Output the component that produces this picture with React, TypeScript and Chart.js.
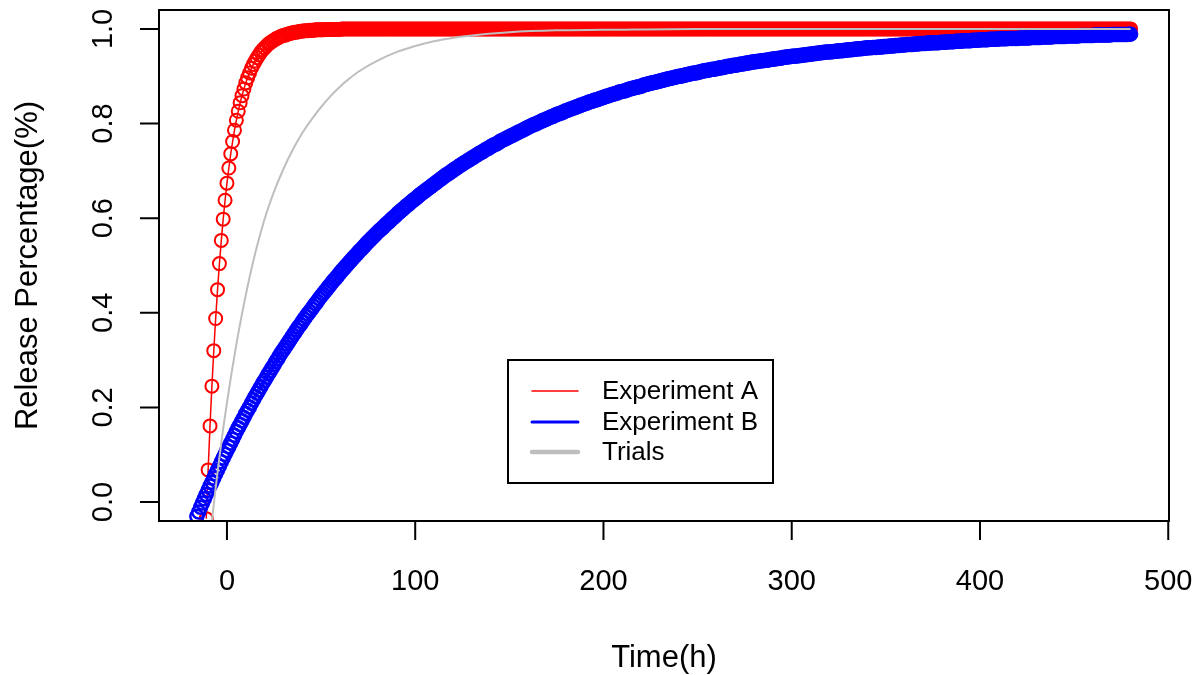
import React, { useEffect, useRef } from "react";
import { Chart, registerables } from "chart.js";

Chart.register(...registerables);

// ---------------- data ----------------
// sampling hours shared by both experiments (-16 h .. 480 h, 1 h apart)
const hours = [
  -16, -15, -14, -13, -12, -11, -10, -9, -8, -7,
  -6, -5, -4, -3, -2, -1, 0, 1, 2, 3,
  4, 5, 6, 7, 8, 9, 10, 11, 12, 13,
  14, 15, 16, 17, 18, 19, 20, 21, 22, 23,
  24, 25, 26, 27, 28, 29, 30, 31, 32, 33,
  34, 35, 36, 37, 38, 39, 40, 41, 42, 43,
  44, 45, 46, 47, 48, 49, 50, 51, 52, 53,
  54, 55, 56, 57, 58, 59, 60, 61, 62, 63,
  64, 65, 66, 67, 68, 69, 70, 71, 72, 73,
  74, 75, 76, 77, 78, 79, 80, 81, 82, 83,
  84, 85, 86, 87, 88, 89, 90, 91, 92, 93,
  94, 95, 96, 97, 98, 99, 100, 101, 102, 103,
  104, 105, 106, 107, 108, 109, 110, 111, 112, 113,
  114, 115, 116, 117, 118, 119, 120, 121, 122, 123,
  124, 125, 126, 127, 128, 129, 130, 131, 132, 133,
  134, 135, 136, 137, 138, 139, 140, 141, 142, 143,
  144, 145, 146, 147, 148, 149, 150, 151, 152, 153,
  154, 155, 156, 157, 158, 159, 160, 161, 162, 163,
  164, 165, 166, 167, 168, 169, 170, 171, 172, 173,
  174, 175, 176, 177, 178, 179, 180, 181, 182, 183,
  184, 185, 186, 187, 188, 189, 190, 191, 192, 193,
  194, 195, 196, 197, 198, 199, 200, 201, 202, 203,
  204, 205, 206, 207, 208, 209, 210, 211, 212, 213,
  214, 215, 216, 217, 218, 219, 220, 221, 222, 223,
  224, 225, 226, 227, 228, 229, 230, 231, 232, 233,
  234, 235, 236, 237, 238, 239, 240, 241, 242, 243,
  244, 245, 246, 247, 248, 249, 250, 251, 252, 253,
  254, 255, 256, 257, 258, 259, 260, 261, 262, 263,
  264, 265, 266, 267, 268, 269, 270, 271, 272, 273,
  274, 275, 276, 277, 278, 279, 280, 281, 282, 283,
  284, 285, 286, 287, 288, 289, 290, 291, 292, 293,
  294, 295, 296, 297, 298, 299, 300, 301, 302, 303,
  304, 305, 306, 307, 308, 309, 310, 311, 312, 313,
  314, 315, 316, 317, 318, 319, 320, 321, 322, 323,
  324, 325, 326, 327, 328, 329, 330, 331, 332, 333,
  334, 335, 336, 337, 338, 339, 340, 341, 342, 343,
  344, 345, 346, 347, 348, 349, 350, 351, 352, 353,
  354, 355, 356, 357, 358, 359, 360, 361, 362, 363,
  364, 365, 366, 367, 368, 369, 370, 371, 372, 373,
  374, 375, 376, 377, 378, 379, 380, 381, 382, 383,
  384, 385, 386, 387, 388, 389, 390, 391, 392, 393,
  394, 395, 396, 397, 398, 399, 400, 401, 402, 403,
  404, 405, 406, 407, 408, 409, 410, 411, 412, 413,
  414, 415, 416, 417, 418, 419, 420, 421, 422, 423,
  424, 425, 426, 427, 428, 429, 430, 431, 432, 433,
  434, 435, 436, 437, 438, 439, 440, 441, 442, 443,
  444, 445, 446, 447, 448, 449, 450, 451, 452, 453,
  454, 455, 456, 457, 458, 459, 460, 461, 462, 463,
  464, 465, 466, 467, 468, 469, 470, 471, 472, 473,
  474, 475, 476, 477, 478, 479, 480,
];

// Experiment A (starts at -11 h)
const releaseA = [
  null, null, null, null, null, -0.035, 0.068, 0.161, 0.245, 0.32,
  0.388, 0.449, 0.504, 0.553, 0.598, 0.638, 0.674, 0.706, 0.736, 0.762,
  0.786, 0.807, 0.826, 0.844, 0.859, 0.873, 0.886, 0.897, 0.907, 0.917,
  0.925, 0.932, 0.939, 0.945, 0.951, 0.956, 0.96, 0.964, 0.968, 0.971,
  0.974, 0.976, 0.979, 0.981, 0.983, 0.985, 0.986, 0.987, 0.989, 0.99,
  0.991, 0.992, 0.993, 0.993, 0.994, 0.995, 0.995, 0.996, 0.996, 0.996,
  0.997, 0.997, 0.997, 0.998, 0.998, 0.998, 0.998, 0.998, 0.999, 0.999,
  0.999, 0.999, 0.999, 0.999, 0.999, 0.999, 0.999, 1, 1, 1,
  1, 1, 1, 1, 1, 1, 1, 1, 1, 1,
  1, 1, 1, 1, 1, 1, 1, 1, 1, 1,
  1, 1, 1, 1, 1, 1, 1, 1, 1, 1,
  1, 1, 1, 1, 1, 1, 1, 1, 1, 1,
  1, 1, 1, 1, 1, 1, 1, 1, 1, 1,
  1, 1, 1, 1, 1, 1, 1, 1, 1, 1,
  1, 1, 1, 1, 1, 1, 1, 1, 1, 1,
  1, 1, 1, 1, 1, 1, 1, 1, 1, 1,
  1, 1, 1, 1, 1, 1, 1, 1, 1, 1,
  1, 1, 1, 1, 1, 1, 1, 1, 1, 1,
  1, 1, 1, 1, 1, 1, 1, 1, 1, 1,
  1, 1, 1, 1, 1, 1, 1, 1, 1, 1,
  1, 1, 1, 1, 1, 1, 1, 1, 1, 1,
  1, 1, 1, 1, 1, 1, 1, 1, 1, 1,
  1, 1, 1, 1, 1, 1, 1, 1, 1, 1,
  1, 1, 1, 1, 1, 1, 1, 1, 1, 1,
  1, 1, 1, 1, 1, 1, 1, 1, 1, 1,
  1, 1, 1, 1, 1, 1, 1, 1, 1, 1,
  1, 1, 1, 1, 1, 1, 1, 1, 1, 1,
  1, 1, 1, 1, 1, 1, 1, 1, 1, 1,
  1, 1, 1, 1, 1, 1, 1, 1, 1, 1,
  1, 1, 1, 1, 1, 1, 1, 1, 1, 1,
  1, 1, 1, 1, 1, 1, 1, 1, 1, 1,
  1, 1, 1, 1, 1, 1, 1, 1, 1, 1,
  1, 1, 1, 1, 1, 1, 1, 1, 1, 1,
  1, 1, 1, 1, 1, 1, 1, 1, 1, 1,
  1, 1, 1, 1, 1, 1, 1, 1, 1, 1,
  1, 1, 1, 1, 1, 1, 1, 1, 1, 1,
  1, 1, 1, 1, 1, 1, 1, 1, 1, 1,
  1, 1, 1, 1, 1, 1, 1, 1, 1, 1,
  1, 1, 1, 1, 1, 1, 1, 1, 1, 1,
  1, 1, 1, 1, 1, 1, 1, 1, 1, 1,
  1, 1, 1, 1, 1, 1, 1, 1, 1, 1,
  1, 1, 1, 1, 1, 1, 1, 1, 1, 1,
  1, 1, 1, 1, 1, 1, 1, 1, 1, 1,
  1, 1, 1, 1, 1, 1, 1, 1, 1, 1,
  1, 1, 1, 1, 1, 1, 1, 1, 1, 1,
  1, 1, 1, 1, 1, 1, 1, 1, 1, 1,
  1, 1, 1, 1, 1, 1, 1, 1, 1, 1,
  1, 1, 1, 1, 1, 1, 1, 1, 1, 1,
  1, 1, 1, 1, 1, 1, 1, 1, 1, 1,
  1, 1, 1, 1, 1, 1, 1,
];

// Experiment B (starts at -16 h)
const releaseB = [
  -0.03, -0.021, -0.011, -0.002, 0.007, 0.016, 0.025, 0.034, 0.042, 0.051,
  0.06, 0.068, 0.076, 0.085, 0.093, 0.101, 0.109, 0.117, 0.125, 0.133,
  0.141, 0.149, 0.157, 0.164, 0.172, 0.179, 0.187, 0.194, 0.201, 0.209,
  0.216, 0.223, 0.23, 0.237, 0.244, 0.251, 0.257, 0.264, 0.271, 0.277,
  0.284, 0.29, 0.297, 0.303, 0.31, 0.316, 0.322, 0.328, 0.334, 0.34,
  0.346, 0.352, 0.358, 0.364, 0.37, 0.375, 0.381, 0.387, 0.392, 0.398,
  0.403, 0.408, 0.414, 0.419, 0.424, 0.43, 0.435, 0.44, 0.445, 0.45,
  0.455, 0.46, 0.465, 0.47, 0.474, 0.479, 0.484, 0.489, 0.493, 0.498,
  0.502, 0.507, 0.511, 0.516, 0.52, 0.524, 0.529, 0.533, 0.537, 0.541,
  0.546, 0.55, 0.554, 0.558, 0.562, 0.566, 0.57, 0.574, 0.577, 0.581,
  0.585, 0.589, 0.592, 0.596, 0.6, 0.603, 0.607, 0.611, 0.614, 0.618,
  0.621, 0.625, 0.628, 0.631, 0.635, 0.638, 0.641, 0.644, 0.648, 0.651,
  0.654, 0.657, 0.66, 0.663, 0.666, 0.669, 0.672, 0.675, 0.678, 0.681,
  0.684, 0.687, 0.69, 0.693, 0.695, 0.698, 0.701, 0.704, 0.706, 0.709,
  0.712, 0.714, 0.717, 0.719, 0.722, 0.724, 0.727, 0.729, 0.732, 0.734,
  0.737, 0.739, 0.741, 0.744, 0.746, 0.748, 0.751, 0.753, 0.755, 0.757,
  0.759, 0.762, 0.764, 0.766, 0.768, 0.77, 0.772, 0.774, 0.776, 0.778,
  0.78, 0.782, 0.784, 0.786, 0.788, 0.79, 0.792, 0.794, 0.796, 0.798,
  0.799, 0.801, 0.803, 0.805, 0.807, 0.808, 0.81, 0.812, 0.814, 0.815,
  0.817, 0.819, 0.82, 0.822, 0.823, 0.825, 0.827, 0.828, 0.83, 0.831,
  0.833, 0.834, 0.836, 0.837, 0.839, 0.84, 0.842, 0.843, 0.845, 0.846,
  0.847, 0.849, 0.85, 0.851, 0.853, 0.854, 0.855, 0.857, 0.858, 0.859,
  0.861, 0.862, 0.863, 0.864, 0.866, 0.867, 0.868, 0.869, 0.87, 0.872,
  0.873, 0.874, 0.875, 0.876, 0.877, 0.878, 0.879, 0.881, 0.882, 0.883,
  0.884, 0.885, 0.886, 0.887, 0.888, 0.889, 0.89, 0.891, 0.892, 0.893,
  0.894, 0.895, 0.896, 0.897, 0.898, 0.899, 0.9, 0.9, 0.901, 0.902,
  0.903, 0.904, 0.905, 0.906, 0.907, 0.907, 0.908, 0.909, 0.91, 0.911,
  0.912, 0.912, 0.913, 0.914, 0.915, 0.915, 0.916, 0.917, 0.918, 0.918,
  0.919, 0.92, 0.921, 0.921, 0.922, 0.923, 0.923, 0.924, 0.925, 0.926,
  0.926, 0.927, 0.928, 0.928, 0.929, 0.93, 0.93, 0.931, 0.931, 0.932,
  0.933, 0.933, 0.934, 0.934, 0.935, 0.936, 0.936, 0.937, 0.937, 0.938,
  0.938, 0.939, 0.94, 0.94, 0.941, 0.941, 0.942, 0.942, 0.943, 0.943,
  0.944, 0.944, 0.945, 0.945, 0.946, 0.946, 0.947, 0.947, 0.948, 0.948,
  0.949, 0.949, 0.95, 0.95, 0.951, 0.951, 0.951, 0.952, 0.952, 0.953,
  0.953, 0.954, 0.954, 0.954, 0.955, 0.955, 0.956, 0.956, 0.956, 0.957,
  0.957, 0.958, 0.958, 0.958, 0.959, 0.959, 0.96, 0.96, 0.96, 0.961,
  0.961, 0.961, 0.962, 0.962, 0.962, 0.963, 0.963, 0.963, 0.964, 0.964,
  0.964, 0.965, 0.965, 0.965, 0.966, 0.966, 0.966, 0.967, 0.967, 0.967,
  0.967, 0.968, 0.968, 0.968, 0.969, 0.969, 0.969, 0.969, 0.97, 0.97,
  0.97, 0.971, 0.971, 0.971, 0.971, 0.972, 0.972, 0.972, 0.972, 0.973,
  0.973, 0.973, 0.973, 0.974, 0.974, 0.974, 0.974, 0.975, 0.975, 0.975,
  0.975, 0.975, 0.976, 0.976, 0.976, 0.976, 0.977, 0.977, 0.977, 0.977,
  0.977, 0.978, 0.978, 0.978, 0.978, 0.978, 0.979, 0.979, 0.979, 0.979,
  0.979, 0.98, 0.98, 0.98, 0.98, 0.98, 0.98, 0.981, 0.981, 0.981,
  0.981, 0.981, 0.981, 0.982, 0.982, 0.982, 0.982, 0.982, 0.982, 0.983,
  0.983, 0.983, 0.983, 0.983, 0.983, 0.984, 0.984, 0.984, 0.984, 0.984,
  0.984, 0.984, 0.985, 0.985, 0.985, 0.985, 0.985, 0.985, 0.985, 0.986,
  0.986, 0.986, 0.986, 0.986, 0.986, 0.986, 0.986, 0.987, 0.987, 0.987,
  0.987, 0.987, 0.987, 0.987, 0.987, 0.987, 0.988, 0.988, 0.988, 0.988,
  0.988, 0.988, 0.988, 0.988, 0.988, 0.989, 0.989,
];

// Trials (smooth grey curve)
const timeTrials = [
  -8, -6, -4, -2, 0, 2, 4, 6, 8, 10,
  12, 15, 18, 21, 25, 30, 35, 40, 45, 50,
  55, 60, 65, 70, 80, 90, 100, 110, 120, 135,
  150, 175, 200, 250, 300, 400, 480,
];
const releaseTrials = [
  -0.04, 0.03, 0.095, 0.155, 0.21, 0.262, 0.31, 0.356, 0.398, 0.438,
  0.475, 0.526, 0.571, 0.611, 0.656, 0.704, 0.745, 0.78, 0.809, 0.835,
  0.858, 0.878, 0.895, 0.91, 0.933, 0.951, 0.964, 0.974, 0.981, 0.988,
  0.993, 0.997, 0.998, 1, 1, 1, 1,
];

const xTicks = [0, 100, 200, 300, 400, 500];
const yTicks = [0, 0.2, 0.4, 0.6, 0.8, 1.0];
const yTickLabels = ["0.0", "0.2", "0.4", "0.6", "0.8", "1.0"];
const seriesNames = ["Experiment A", "Experiment B", "Trials"];
const xTitle = "Time(h)";
const yTitle = "Release Percentage(%)";

// ---------------- styling ----------------
const FONT = '"Liberation Sans", Arial, Helvetica, sans-serif';
const RED = "#FF0000";
const BLUE = "#0000FF";
const GREY = "#BEBEBE";

const rBasePlot = {
  id: "rBasePlot",
  afterDraw(chart: any) {
    const { ctx, chartArea: a, scales } = chart;
    const xs = scales.x;
    const ys = scales.y;
    ctx.save();
    ctx.strokeStyle = "#000";
    ctx.fillStyle = "#000";
    ctx.lineWidth = 2;
    ctx.lineCap = "butt";
    // box
    ctx.strokeRect(a.left, a.top, a.right - a.left, a.bottom - a.top);
    // ticks
    ctx.beginPath();
    xTicks.forEach((v) => {
      const px = xs.getPixelForValue(v);
      ctx.moveTo(px, a.bottom);
      ctx.lineTo(px, a.bottom + 19);
    });
    yTicks.forEach((v) => {
      const py = ys.getPixelForValue(v);
      ctx.moveTo(a.left, py);
      ctx.lineTo(a.left - 19, py);
    });
    ctx.stroke();
    // tick labels
    ctx.font = `29px ${FONT}`;
    ctx.textAlign = "center";
    ctx.textBaseline = "alphabetic";
    xTicks.forEach((v) => {
      ctx.fillText(String(v), xs.getPixelForValue(v), 590);
    });
    yTicks.forEach((v, i) => {
      ctx.save();
      ctx.translate(112, ys.getPixelForValue(v));
      ctx.rotate(-Math.PI / 2);
      ctx.fillText(yTickLabels[i], 0, 0);
      ctx.restore();
    });
    // axis titles
    ctx.font = `31px ${FONT}`;
    ctx.fillText(xTitle, (a.left + a.right) / 2, 667);
    ctx.save();
    ctx.translate(37, (a.top + a.bottom) / 2);
    ctx.rotate(-Math.PI / 2);
    ctx.fillText(yTitle, 0, 0);
    ctx.restore();
    // legend
    const lx = 508, ly = 360, lw = 265, lh = 123;
    ctx.fillStyle = "#fff";
    ctx.fillRect(lx, ly, lw, lh);
    ctx.strokeStyle = "#000";
    ctx.lineWidth = 2;
    ctx.strokeRect(lx, ly, lw, lh);
    const rows = [
      { y: 391, color: RED, w: 1.5 },
      { y: 422, color: BLUE, w: 3 },
      { y: 452, color: GREY, w: 4.5 },
    ];
    ctx.lineCap = "round";
    rows.forEach((r, i) => {
      ctx.strokeStyle = r.color;
      ctx.lineWidth = r.w;
      ctx.beginPath();
      ctx.moveTo(532, r.y);
      ctx.lineTo(578, r.y);
      ctx.stroke();
      ctx.fillStyle = "#000";
      ctx.font = `26px ${FONT}`;
      ctx.textAlign = "left";
      ctx.textBaseline = "middle";
      ctx.fillText(seriesNames[i], 602, r.y + 1);
    });
    ctx.restore();
  },
};

const toPoints = (xs: number[], ys: (number | null)[]) =>
  xs
    .map((t, i) => ({ x: t, y: ys[i] }))
    .filter((p) => p.y !== null && p.y !== undefined);

export default function App() {
  const canvasRef = useRef<HTMLCanvasElement | null>(null);

  useEffect(() => {
    document.body.style.margin = "0";
    const canvas = canvasRef.current;
    if (!canvas) return;
    const chart = new Chart(canvas, {
      type: "line",
      data: {
        datasets: [
          {
            label: seriesNames[2],
            data: toPoints(timeTrials, releaseTrials),
            borderColor: GREY,
            borderWidth: 2,
            pointRadius: 0,
            cubicInterpolationMode: "monotone",
            fill: false,
            order: 0,
            clip: 0,
          },
          {
            label: seriesNames[1],
            data: toPoints(hours, releaseB),
            showLine: false,
            borderColor: BLUE,
            pointRadius: 6.5,
            pointBorderWidth: 2.5,
            pointBorderColor: BLUE,
            pointBackgroundColor: "rgba(0,0,0,0)",
            order: 1,
            clip: 0,
          },
          {
            label: seriesNames[0],
            data: toPoints(hours, releaseA),
            borderColor: RED,
            borderWidth: 1.5,
            pointRadius: 6.5,
            pointBorderWidth: 2,
            pointBorderColor: RED,
            pointBackgroundColor: "rgba(0,0,0,0)",
            tension: 0,
            fill: false,
            order: 2,
            clip: 0,
          },
        ],
      } as any,
      options: {
        responsive: false,
        animation: false,
        devicePixelRatio: 1,
        events: [],
        layout: { padding: { left: 159, right: 31, top: 10, bottom: 154 } },
        plugins: { legend: { display: false }, tooltip: { enabled: false } },
        scales: {
          x: { type: "linear", min: -36.1, max: 500.4, display: false },
          y: { type: "linear", min: -0.04, max: 1.04, display: false },
        },
      } as any,
      plugins: [rBasePlot],
    });
    return () => chart.destroy();
  }, []);

  return (
    <div style={{ width: 1200, height: 675, background: "#fff" }}>
      <canvas ref={canvasRef} width={1200} height={675} style={{ display: "block" }} />
    </div>
  );
}
